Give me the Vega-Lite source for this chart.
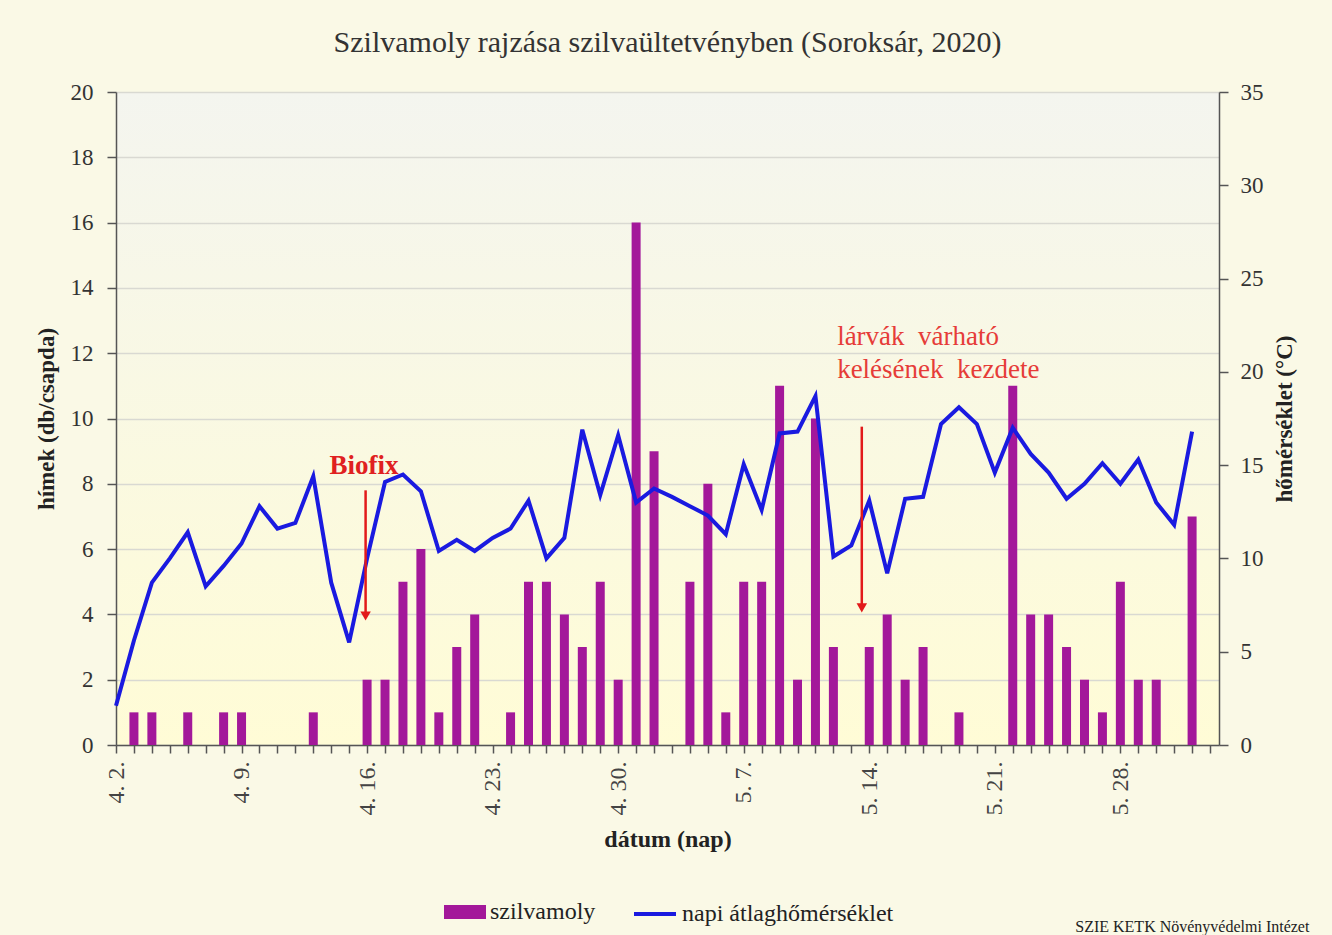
{
  "$schema": "https://vega.github.io/schema/vega-lite/v6.json",
  "width": 1103,
  "height": 653,
  "autosize": "none",
  "padding": {"left": 116, "top": 92, "right": 113, "bottom": 190},
  "background": "#faf9e6",
  "title": {
    "text": "Szilvamoly rajzása szilvaültetvényben (Soroksár, 2020)",
    "font": "Liberation Serif", "fontSize": 30, "fontWeight": "normal", "color": "#333333",
    "anchor": "middle", "offset": 23
  },
  "config": {
    "view": {"stroke": null, "fill": {"gradient": "linear", "x1": 0, "y1": 0, "x2": 0, "y2": 1, "stops": [{"offset": 0, "color": "#f4f5ef"}, {"offset": 1, "color": "#fffcd6"}]}},
    "axis": {
      "labelFont": "Liberation Serif", "labelFontSize": 23, "labelColor": "#333333",
      "titleFont": "Liberation Serif", "titleFontSize": 23, "titleFontWeight": "bold", "titleColor": "#222222",
      "domainColor": "#555555", "domainWidth": 1.5, "tickColor": "#555555", "tickWidth": 1.5, "tickSize": 9,
      "gridColor": "#d9d9d2", "gridWidth": 1.5
    },
    "legend": {"labelFont": "Liberation Serif", "labelFontSize": 24, "labelColor": "#222222", "labelLimit": 400}
  },
  "datasets": {
    "napi": [
      {"datum": "2020-04-02", "szilvamoly": 0, "homerseklet": 2.1},
      {"datum": "2020-04-03", "szilvamoly": 1, "homerseklet": 5.6},
      {"datum": "2020-04-04", "szilvamoly": 1, "homerseklet": 8.7},
      {"datum": "2020-04-05", "szilvamoly": 0, "homerseklet": 10.0},
      {"datum": "2020-04-06", "szilvamoly": 1, "homerseklet": 11.4},
      {"datum": "2020-04-07", "szilvamoly": 0, "homerseklet": 8.5},
      {"datum": "2020-04-08", "szilvamoly": 1, "homerseklet": 9.6},
      {"datum": "2020-04-09", "szilvamoly": 1, "homerseklet": 10.8},
      {"datum": "2020-04-10", "szilvamoly": 0, "homerseklet": 12.8},
      {"datum": "2020-04-11", "szilvamoly": 0, "homerseklet": 11.6},
      {"datum": "2020-04-12", "szilvamoly": 0, "homerseklet": 11.9},
      {"datum": "2020-04-13", "szilvamoly": 1, "homerseklet": 14.4},
      {"datum": "2020-04-14", "szilvamoly": 0, "homerseklet": 8.7},
      {"datum": "2020-04-15", "szilvamoly": 0, "homerseklet": 5.5},
      {"datum": "2020-04-16", "szilvamoly": 2, "homerseklet": 10.0},
      {"datum": "2020-04-17", "szilvamoly": 2, "homerseklet": 14.1},
      {"datum": "2020-04-18", "szilvamoly": 5, "homerseklet": 14.5},
      {"datum": "2020-04-19", "szilvamoly": 6, "homerseklet": 13.6},
      {"datum": "2020-04-20", "szilvamoly": 1, "homerseklet": 10.4},
      {"datum": "2020-04-21", "szilvamoly": 3, "homerseklet": 11.0},
      {"datum": "2020-04-22", "szilvamoly": 4, "homerseklet": 10.4},
      {"datum": "2020-04-23", "szilvamoly": 0, "homerseklet": 11.1},
      {"datum": "2020-04-24", "szilvamoly": 1, "homerseklet": 11.6},
      {"datum": "2020-04-25", "szilvamoly": 5, "homerseklet": 13.1},
      {"datum": "2020-04-26", "szilvamoly": 5, "homerseklet": 10.0},
      {"datum": "2020-04-27", "szilvamoly": 4, "homerseklet": 11.1},
      {"datum": "2020-04-28", "szilvamoly": 3, "homerseklet": 16.9},
      {"datum": "2020-04-29", "szilvamoly": 5, "homerseklet": 13.4},
      {"datum": "2020-04-30", "szilvamoly": 2, "homerseklet": 16.6},
      {"datum": "2020-05-01", "szilvamoly": 16, "homerseklet": 13.0},
      {"datum": "2020-05-02", "szilvamoly": 9, "homerseklet": 13.75},
      {"datum": "2020-05-03", "szilvamoly": 0, "homerseklet": 13.3},
      {"datum": "2020-05-04", "szilvamoly": 5, "homerseklet": 12.8},
      {"datum": "2020-05-05", "szilvamoly": 8, "homerseklet": 12.3},
      {"datum": "2020-05-06", "szilvamoly": 1, "homerseklet": 11.3},
      {"datum": "2020-05-07", "szilvamoly": 5, "homerseklet": 15.05},
      {"datum": "2020-05-08", "szilvamoly": 5, "homerseklet": 12.6},
      {"datum": "2020-05-09", "szilvamoly": 11, "homerseklet": 16.7},
      {"datum": "2020-05-10", "szilvamoly": 2, "homerseklet": 16.8},
      {"datum": "2020-05-11", "szilvamoly": 10, "homerseklet": 18.7},
      {"datum": "2020-05-12", "szilvamoly": 3, "homerseklet": 10.1},
      {"datum": "2020-05-13", "szilvamoly": 0, "homerseklet": 10.7},
      {"datum": "2020-05-14", "szilvamoly": 3, "homerseklet": 13.1},
      {"datum": "2020-05-15", "szilvamoly": 4, "homerseklet": 9.2},
      {"datum": "2020-05-16", "szilvamoly": 2, "homerseklet": 13.2},
      {"datum": "2020-05-17", "szilvamoly": 3, "homerseklet": 13.3},
      {"datum": "2020-05-18", "szilvamoly": 0, "homerseklet": 17.2},
      {"datum": "2020-05-19", "szilvamoly": 1, "homerseklet": 18.1},
      {"datum": "2020-05-20", "szilvamoly": 0, "homerseklet": 17.2},
      {"datum": "2020-05-21", "szilvamoly": 0, "homerseklet": 14.6},
      {"datum": "2020-05-22", "szilvamoly": 11, "homerseklet": 17.0},
      {"datum": "2020-05-23", "szilvamoly": 4, "homerseklet": 15.6},
      {"datum": "2020-05-24", "szilvamoly": 4, "homerseklet": 14.6},
      {"datum": "2020-05-25", "szilvamoly": 3, "homerseklet": 13.2},
      {"datum": "2020-05-26", "szilvamoly": 2, "homerseklet": 14.0},
      {"datum": "2020-05-27", "szilvamoly": 1, "homerseklet": 15.1},
      {"datum": "2020-05-28", "szilvamoly": 5, "homerseklet": 14.0},
      {"datum": "2020-05-29", "szilvamoly": 2, "homerseklet": 15.3},
      {"datum": "2020-05-30", "szilvamoly": 2, "homerseklet": 13.0},
      {"datum": "2020-05-31", "szilvamoly": 0, "homerseklet": 11.8},
      {"datum": "2020-06-01", "szilvamoly": 7, "homerseklet": 16.8}
    ],
    "nyilak": [
      {"datum": "2020-04-15T22:00:00Z", "felso": 7.8, "also": 3.9},
      {"datum": "2020-05-13T14:00:00Z", "felso": 9.75, "also": 4.15}
    ],
    "nyilhegyek": [
      {"datum": "2020-04-15T22:00:00Z", "ertek": 3.95},
      {"datum": "2020-05-13T14:00:00Z", "ertek": 4.2}
    ],
    "biofix": [
      {"datum": "2020-04-15T20:00:00Z", "ertek": 8.55, "szoveg": "Biofix"}
    ],
    "larvak": [
      {"datum": "2020-05-12T05:00:00Z", "ertek": 12.5, "szoveg": "lárvák\u00a0 várható"},
      {"datum": "2020-05-12T05:00:00Z", "ertek": 11.5, "szoveg": "kelésének\u00a0 kezdete"}
    ],
    "forras": [
      {"datum": "2020-06-07T13:00:00Z", "ertek": -5.57, "szoveg": "SZIE KETK Növényvédelmi Intézet"}
    ]
  },
  "layer": [
    {
      "data": {"name": "napi"},
      "mark": {"type": "bar", "width": 9},
      "encoding": {
        "x": {
          "field": "datum", "type": "temporal",
          "scale": {"type": "utc", "nice": false, "padding": 0, "domain": [{"year": 2020, "month": 4, "date": 2, "utc": true}, {"year": 2020, "month": 6, "date": 2, "hours": 12, "utc": true}]},
          "axis": {
            "title": "dátum (nap)", "titleFontSize": 24, "titlePadding": 12,
            "tickCount": {"interval": "day", "step": 1}, "tickSize": 8,
            "labelAngle": 270, "labelFontSize": 24, "labelColor": "#444444", "labelPadding": 8,
            "labelOverlap": false, "labelFlush": false, "grid": false,
            "labelExpr": "round((datum.value - utc(2020,3,2))/86400000) % 7 == 0 ? utcFormat(datum.value, '%-m. %-d.') : ''"
          }
        },
        "y": {
          "field": "szilvamoly", "type": "quantitative",
          "scale": {"domain": [0, 20], "nice": false},
          "axis": {"title": "hímek (db/csapda)", "values": [0, 2, 4, 6, 8, 10, 12, 14, 16, 18, 20], "grid": true, "labelPadding": 14, "titlePadding": 12}
        },
        "fill": {
          "datum": "szilvamoly",
          "scale": {"range": ["#a3189a"]},
          "legend": {"title": null, "orient": "none", "legendX": 328, "legendY": 799, "direction": "horizontal", "symbolType": "M-1,-0.33H1V0.33H-1Z", "symbolSize": 1764, "symbolStrokeWidth": 0, "labelOffset": 4}
        }
      }
    },
    {
      "data": {"name": "napi"},
      "mark": {"type": "line", "strokeWidth": 4, "strokeJoin": "miter"},
      "encoding": {
        "x": {"field": "datum", "type": "temporal"},
        "y": {
          "field": "homerseklet", "type": "quantitative",
          "scale": {"domain": [0, 35], "nice": false},
          "axis": {"orient": "right", "title": "hőmérséklet (°C)", "titleAngle": 270, "titleBaseline": "top", "values": [0, 5, 10, 15, 20, 25, 30, 35], "grid": false, "labelPadding": 12, "titlePadding": 10}
        },
        "stroke": {
          "datum": "napi átlaghőmérséklet",
          "scale": {"range": ["#1a1ae0"]},
          "legend": {"title": null, "orient": "none", "legendX": 516, "legendY": 799, "direction": "horizontal", "symbolType": "stroke", "symbolSize": 1764, "symbolStrokeWidth": 4, "labelOffset": 4}
        }
      }
    },
    {
      "data": {"name": "nyilak"},
      "mark": {"type": "rule", "color": "#e21a1a", "strokeWidth": 2.5},
      "encoding": {
        "x": {"field": "datum", "type": "temporal"},
        "y": {"field": "felso", "type": "quantitative", "scale": {"domain": [0, 20], "nice": false}, "axis": null},
        "y2": {"field": "also"}
      }
    },
    {
      "data": {"name": "nyilhegyek"},
      "mark": {"type": "point", "shape": "triangle-down", "filled": true, "color": "#e21a1a", "size": 110, "opacity": 1},
      "encoding": {
        "x": {"field": "datum", "type": "temporal"},
        "y": {"field": "ertek", "type": "quantitative", "scale": {"domain": [0, 20], "nice": false}, "axis": null}
      }
    },
    {
      "data": {"name": "biofix"},
      "mark": {"type": "text", "font": "Liberation Serif", "fontSize": 27, "fontWeight": "bold", "color": "#e02020", "align": "center", "baseline": "middle"},
      "encoding": {
        "x": {"field": "datum", "type": "temporal"},
        "y": {"field": "ertek", "type": "quantitative", "scale": {"domain": [0, 20], "nice": false}, "axis": null},
        "text": {"field": "szoveg"}
      }
    },
    {
      "data": {"name": "larvak"},
      "mark": {"type": "text", "font": "Liberation Serif", "fontSize": 27, "color": "#e63c38", "align": "left", "baseline": "middle"},
      "encoding": {
        "x": {"field": "datum", "type": "temporal"},
        "y": {"field": "ertek", "type": "quantitative", "scale": {"domain": [0, 20], "nice": false}, "axis": null},
        "text": {"field": "szoveg"}
      }
    },
    {
      "data": {"name": "forras"},
      "mark": {"type": "text", "font": "Liberation Serif", "fontSize": 16, "color": "#222222", "align": "right", "baseline": "middle"},
      "encoding": {
        "x": {"field": "datum", "type": "temporal"},
        "y": {"field": "ertek", "type": "quantitative", "scale": {"domain": [0, 20], "nice": false}, "axis": null},
        "text": {"field": "szoveg"}
      }
    }
  ],
  "resolve": {"scale": {"y": "independent"}}
}
